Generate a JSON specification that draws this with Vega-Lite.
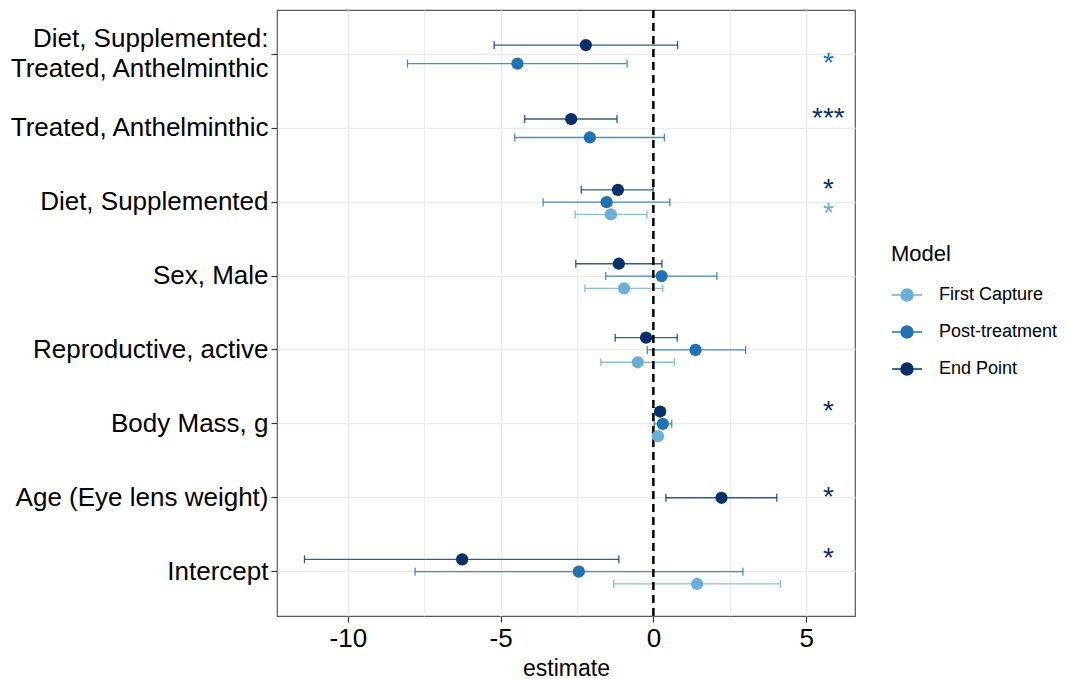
{
  "$schema": "https://vega.github.io/schema/vega-lite/v6.json",
  "width": 578,
  "height": 606,
  "autosize": {"type": "none"},
  "padding": {"left": 277, "top": 10, "right": 216, "bottom": 63},
  "config": {
    "font": "Liberation Sans",
    "view": {"stroke": "#595959", "strokeWidth": 1.2}
  },
  "data": {
    "values": [
      {"term": "Diet, Supplemented: Treated, Anthelminthic", "model": "End Point", "estimate": -2.21, "lower": -5.21, "upper": 0.79, "sig": ""},
      {"term": "Diet, Supplemented: Treated, Anthelminthic", "model": "Post-treatment", "estimate": -4.45, "lower": -8.05, "upper": -0.86, "sig": "*"},
      {"term": "Treated, Anthelminthic", "model": "End Point", "estimate": -2.69, "lower": -4.21, "upper": -1.19, "sig": "***"},
      {"term": "Treated, Anthelminthic", "model": "Post-treatment", "estimate": -2.08, "lower": -4.54, "upper": 0.36, "sig": ""},
      {"term": "Diet, Supplemented", "model": "End Point", "estimate": -1.16, "lower": -2.36, "upper": -0.01, "sig": "*"},
      {"term": "Diet, Supplemented", "model": "Post-treatment", "estimate": -1.53, "lower": -3.61, "upper": 0.54, "sig": ""},
      {"term": "Diet, Supplemented", "model": "First Capture", "estimate": -1.39, "lower": -2.56, "upper": -0.21, "sig": "*"},
      {"term": "Sex, Male", "model": "End Point", "estimate": -1.13, "lower": -2.54, "upper": 0.28, "sig": ""},
      {"term": "Sex, Male", "model": "Post-treatment", "estimate": 0.27, "lower": -1.56, "upper": 2.08, "sig": ""},
      {"term": "Sex, Male", "model": "First Capture", "estimate": -0.96, "lower": -2.24, "upper": 0.31, "sig": ""},
      {"term": "Reproductive, active", "model": "End Point", "estimate": -0.24, "lower": -1.25, "upper": 0.78, "sig": ""},
      {"term": "Reproductive, active", "model": "Post-treatment", "estimate": 1.38, "lower": -0.2, "upper": 3.02, "sig": ""},
      {"term": "Reproductive, active", "model": "First Capture", "estimate": -0.51, "lower": -1.72, "upper": 0.69, "sig": ""},
      {"term": "Body Mass, g", "model": "End Point", "estimate": 0.22, "lower": 0.08, "upper": 0.37, "sig": "*"},
      {"term": "Body Mass, g", "model": "Post-treatment", "estimate": 0.31, "lower": 0.03, "upper": 0.6, "sig": ""},
      {"term": "Body Mass, g", "model": "First Capture", "estimate": 0.15, "lower": 0.04, "upper": 0.27, "sig": ""},
      {"term": "Age (Eye lens weight)", "model": "End Point", "estimate": 2.23, "lower": 0.41, "upper": 4.04, "sig": "*"},
      {"term": "Intercept", "model": "End Point", "estimate": -6.26, "lower": -11.42, "upper": -1.13, "sig": "*"},
      {"term": "Intercept", "model": "Post-treatment", "estimate": -2.44, "lower": -7.8, "upper": 2.93, "sig": ""},
      {"term": "Intercept", "model": "First Capture", "estimate": 1.43, "lower": -1.3, "upper": 4.16, "sig": ""}
    ]
  },
  "transform": [
    {"calculate": "indexof(['End Point','Post-treatment','First Capture'], datum.model)", "as": "ord"},
    {"window": [{"op": "row_number", "as": "rank"}], "groupby": ["term"], "sort": [{"field": "ord"}]},
    {"joinaggregate": [{"op": "count", "as": "n"}], "groupby": ["term"]},
    {"calculate": "(datum.rank - (datum.n + 1) / 2) / datum.n", "as": "dodge"}
  ],
  "layer": [
    {
      "mark": {"type": "rule", "strokeWidth": 1.3, "opacity": 0.8},
      "encoding": {
        "x": {
          "field": "lower", "type": "quantitative",
          "scale": {"domain": [-12.32, 6.6], "nice": false, "zero": false},
          "axis": {
            "values": [-10, -7.5, -5, -2.5, 0, 2.5, 5],
            "labelExpr": "datum.value % 5 === 0 ? '' + datum.value : ''",
            "tickOpacity": {"condition": {"test": "datum.value % 5 !== 0", "value": 0}, "value": 1},
            "gridWidth": {"condition": {"test": "datum.value % 5 !== 0", "value": 0.8}, "value": 1.5},
            "gridColor": "#ebebeb",
            "title": "estimate",
            "titleFontSize": 23, "titleFontWeight": "normal", "titleColor": "black",
            "labelFontSize": 26, "labelColor": "black",
            "tickSize": 6, "tickColor": "#333333", "tickWidth": 1.2,
            "domain": false, "labelPadding": 3, "titlePadding": 6
          }
        },
        "x2": {"field": "upper"},
        "y": {
          "field": "term", "type": "nominal",
          "sort": null,
          "scale": {"type": "band", "paddingInner": 0, "paddingOuter": 0.1, "domain": ["Diet, Supplemented: Treated, Anthelminthic", "Treated, Anthelminthic", "Diet, Supplemented", "Sex, Male", "Reproductive, active", "Body Mass, g", "Age (Eye lens weight)", "Intercept"]},
          "axis": {
            "title": null,
            "bandPosition": 0.5,
            "labelExpr": "datum.value == 'Diet, Supplemented: Treated, Anthelminthic' ? ['Diet, Supplemented:\u00a0', 'Treated, Anthelminthic'] : datum.label",
            "labelOffset": {"condition": {"test": "datum.value == 'Diet, Supplemented: Treated, Anthelminthic'", "value": -15}, "value": 0},
            "labelFontSize": 26, "labelColor": "black", "labelLineHeight": 30, "labelLimit": 400,
            "tickSize": 6, "tickColor": "#333333", "tickWidth": 1.2,
            "domain": false, "grid": true, "gridColor": "#ebebeb", "gridWidth": 1.5, "labelPadding": 3
          }
        },
        "yOffset": {"field": "dodge", "type": "quantitative", "scale": {"domain": [-1, 1], "range": [0, 73.9]}},
        "color": {
          "field": "model", "type": "nominal",
          "scale": {"domain": ["First Capture", "Post-treatment", "End Point"], "range": ["#6baed6", "#2171b5", "#08306b"]}
        }
      }
    },
    {
      "mark": {"type": "point", "shape": "M0,-1V1", "size": 64, "filled": false, "strokeWidth": 1.3, "opacity": 0.8},
      "encoding": {
        "x": {"field": "lower", "type": "quantitative"},
        "y": {"field": "term", "type": "nominal", "sort": null},
        "yOffset": {"field": "dodge", "type": "quantitative"},
        "color": {"field": "model", "type": "nominal"}
      }
    },
    {
      "mark": {"type": "point", "shape": "M0,-1V1", "size": 64, "filled": false, "strokeWidth": 1.3, "opacity": 0.8},
      "encoding": {
        "x": {"field": "upper", "type": "quantitative"},
        "y": {"field": "term", "type": "nominal", "sort": null},
        "yOffset": {"field": "dodge", "type": "quantitative"},
        "color": {"field": "model", "type": "nominal"}
      }
    },
    {
      "data": {"values": [{"ref": 0}]},
      "mark": {"type": "rule", "color": "black", "strokeWidth": 2.5, "strokeDash": [8, 5]},
      "encoding": {"x": {"field": "ref", "type": "quantitative"}}
    },
    {
      "mark": {"type": "point", "shape": "circle", "filled": true, "size": 150, "opacity": 1},
      "encoding": {
        "x": {"field": "estimate", "type": "quantitative"},
        "y": {"field": "term", "type": "nominal", "sort": null},
        "yOffset": {"field": "dodge", "type": "quantitative"},
        "color": {
          "field": "model", "type": "nominal",
          "legend": {
            "orient": "none", "legendX": 614, "legendY": 234,
            "title": "Model", "titleFontSize": 22, "titleFontWeight": "normal", "titleColor": "black",
            "labelFontSize": 18, "labelColor": "black",
            "symbolType": "M-1,0H1M-0.4,0A0.4,0.4,0,1,0,0.4,0A0.4,0.4,0,1,0,-0.4,0Z",
            "symbolSize": 900, "symbolStrokeWidth": 1.5, "symbolOpacity": 1,
            "labelOffset": 16, "rowPadding": 12, "titlePadding": 13, "padding": 0,
            "encode": {"symbols": {"update": {"fill": {"scale": "color", "field": "value"}, "stroke": {"scale": "color", "field": "value"}}}}
          }
        }
      }
    },
    {
      "mark": {"type": "text", "fontSize": 28, "baseline": "middle", "align": "center"},
      "encoding": {
        "x": {"datum": 5.73, "type": "quantitative"},
        "y": {"field": "term", "type": "nominal", "sort": null},
        "yOffset": {"field": "dodge", "type": "quantitative"},
        "text": {"field": "sig"},
        "color": {"field": "model", "type": "nominal"}
      }
    }
  ]
}
